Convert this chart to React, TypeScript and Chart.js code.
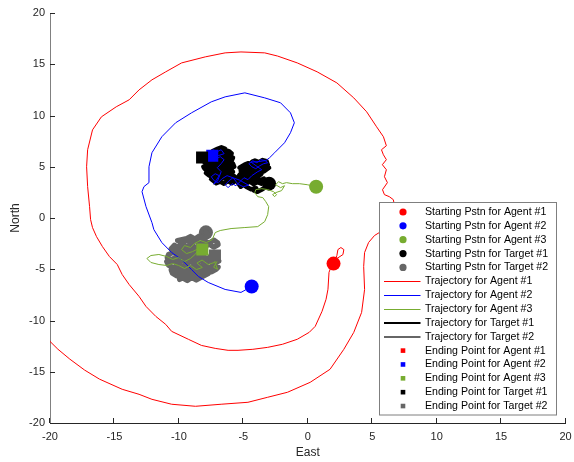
import { useEffect, useRef } from 'react';
import { Chart, registerables } from 'chart.js';

Chart.register(...registerables);

const FONT = '"Liberation Sans", Arial, Helvetica, sans-serif';

// Axis ticks (East / North, metres)
const xTicks = [-20, -15, -10, -5, 0, 5, 10, 15, 20];
const yTicks = [-20, -15, -10, -5, 0, 5, 10, 15, 20];

const names = ['Agent #1', 'Agent #2', 'Agent #3', 'Target #1', 'Target #2'];
const colors = ['#FF0000', '#0000FF', '#77AC30', '#000000', '#666666'];
const pathWidths = [1, 1, 1, 4.5, 5.2];

type Pt = [number, number];

// Starting positions
const startPoints: Pt[] = [
  [2.0, -4.45],
  [-4.35, -6.68],
  [0.65, 3.05],
  [-3.0, 3.35],
  [-7.9, -1.4],
];

// Ending positions
const endPoints: Pt[] = [
  [-21.5, -8.5],
  [-7.41, 6.08],
  [-8.18, -3.08],
  [-8.2, 5.9],
  [-7.2, -3.65],
];

const agent1Path: Pt[] = [
  [2.0, -4.45], [2.26, -3.66], [2.34, -3.08], [2.57, -2.88], [2.8, -3.08], [2.73, -3.57], [2.26, -3.95],
  [1.96, -4.25], [1.65, -5.3], [1.57, -6.95], [1.42, -7.93], [1.11, -9.1], [0.58, -10.57], [0.12, -11.15],
  [-0.81, -11.83], [-1.96, -12.32], [-3.11, -12.62], [-4.26, -12.81], [-5.41, -12.91], [-6.18, -12.91],
  [-7.18, -12.72], [-8.25, -12.43], [-9.25, -11.84], [-10.56, -11.06], [-11.02, -10.38], [-11.79, -9.6],
  [-12.55, -8.63], [-13.09, -7.65], [-13.86, -6.49], [-14.4, -5.51], [-14.78, -4.54], [-15.39, -3.76],
  [-15.93, -2.79], [-16.39, -1.82], [-16.7, -0.94], [-16.85, -0.16], [-16.93, 1.11], [-17.08, 3.06],
  [-17.16, 5.0], [-17.08, 6.66], [-16.7, 8.6], [-16.01, 9.87], [-14.86, 10.85], [-13.86, 11.53],
  [-13.09, 12.5], [-12.09, 13.48], [-11.02, 14.26], [-9.79, 15.13], [-7.95, 15.72], [-6.41, 16.11],
  [-5.18, 16.2], [-3.34, 16.11], [-2.34, 15.8], [-0.81, 15.13], [0.73, 14.26], [2.26, 13.18],
  [3.57, 11.72], [4.57, 10.36], [5.34, 8.9], [5.87, 7.93], [6.1, 7.05], [5.72, 6.66], [5.87, 6.17],
  [6.1, 5.69], [5.79, 5.2], [6.1, 4.71], [5.95, 4.03], [6.18, 3.45], [5.8, 2.76], [5.95, 2.28],
  [6.33, 2.08], [6.64, 1.79], [6.79, 0.82], [6.56, -0.35], [5.8, -1.23], [5.18, -1.71], [4.72, -2.39],
  [4.41, -3.37], [4.34, -4.73], [4.41, -6.97], [4.18, -9.21], [3.57, -11.16], [2.8, -12.81],
  [1.73, -14.76], [0.19, -16.03], [-1.57, -17.0], [-3.11, -17.49], [-4.64, -17.98], [-6.72, -18.17],
  [-8.71, -18.37], [-10.56, -18.17], [-12.09, -17.69], [-13.09, -17.2], [-14.4, -16.71],
  [-16.16, -15.72], [-17.31, -14.84], [-18.46, -13.77], [-19.39, -12.8], [-20.0, -12.04],
  [-20.77, -10.1], [-21.5, -8.5],
];

const agent2Path: Pt[] = [
  [-4.35, -6.68], [-5.18, -7.26], [-6.41, -6.97], [-7.72, -6.29], [-8.48, -5.71], [-9.02, -5.03],
  [-9.79, -4.05], [-10.56, -3.37], [-11.32, -2.4], [-11.94, -1.13], [-12.09, -0.45], [-12.55, 1.11],
  [-12.86, 2.57], [-12.71, 3.06], [-12.32, 3.45], [-12.32, 5.0], [-12.09, 6.37], [-11.32, 7.93],
  [-10.25, 9.29], [-9.02, 10.26], [-7.49, 11.33], [-6.41, 11.82], [-4.88, 12.21], [-3.34, 11.72],
  [-2.11, 11.24], [-1.34, 10.26], [-1.04, 9.29], [-1.34, 8.32], [-1.8, 7.34], [-2.57, 6.37],
  [-2.96, 5.88], [-3.26, 5.59], [-3.65, 5.69], [-3.95, 5.39], [-4.26, 5.59], [-4.57, 5.3], [-4.34, 5.0],
  [-4.03, 4.81], [-3.72, 5.1], [-3.42, 5.3], [-3.11, 5.39], [-3.3, 5.6], [-3.8, 5.5], [-4.4, 5.45],
  [-3.57, 4.71], [-3.88, 4.52], [-4.34, 4.13], [-4.64, 3.74], [-4.95, 3.93], [-5.26, 3.54], [-5.57, 3.15],
  [-5.87, 3.35], [-6.18, 2.96], [-6.41, 3.25], [-6.1, 3.64], [-5.8, 3.93], [-5.4, 3.3], [-5.0, 3.05],
  [-4.6, 3.2], [-5.3, 3.7], [-6.26, 4.13], [-6.64, 3.84], [-6.95, 3.45], [-7.26, 3.64], [-7.49, 4.03],
  [-7.18, 4.32], [-6.87, 4.13], [-7.3, 3.3], [-7.0, 3.6], [-6.72, 4.52], [-7.02, 4.91], [-6.72, 5.3],
  [-6.49, 5.69], [-6.79, 5.98], [-7.1, 5.78], [-7.41, 6.08], [-7.64, 6.37], [-7.33, 6.66], [-7.02, 6.47],
  [-6.72, 6.66], [-6.49, 6.27], [-6.95, 6.08], [-7.41, 6.08],
];

const agent3Path: Pt[] = [
  [0.65, 3.05], [-0.04, 3.25], [-0.65, 3.35], [-1.19, 3.35], [-1.65, 3.45], [-1.96, 3.35], [-2.26, 3.54],
  [-2.5, 3.25], [-2.11, 2.96], [-1.8, 3.15], [-2.03, 2.67], [-2.5, 2.47], [-2.73, 2.28], [-2.57, 2.08],
  [-2.42, 2.28], [-2.65, 2.57], [-3.11, 2.77], [-3.57, 2.86], [-4.03, 2.77], [-4.11, 2.47], [-3.88, 2.08],
  [-3.49, 1.99], [-3.26, 1.6], [-3.03, 1.11], [-3.11, 0.33], [-3.34, -0.35], [-3.88, -0.84], [-4.88, -0.93],
  [-5.95, -1.03], [-6.79, -1.22], [-7.18, -1.42], [-7.41, -2.1], [-7.87, -2.4], [-8.33, -2.2], [-8.79, -2.49],
  [-9.1, -2.88], [-9.56, -2.69], [-9.79, -3.08], [-9.41, -3.47], [-8.94, -3.28], [-8.5, -3.0], [-8.1, -3.3],
  [-7.8, -2.9], [-8.3, -2.7], [-8.7, -3.5], [-9.1, -3.95], [-9.56, -4.25], [-10.02, -3.86], [-10.48, -4.05],
  [-10.94, -3.76], [-11.55, -3.56], [-12.17, -3.66], [-12.48, -3.95], [-12.17, -4.34], [-11.55, -4.54],
  [-10.94, -4.63], [-10.48, -4.44], [-10.02, -4.63], [-9.56, -4.93], [-9.1, -4.63], [-8.64, -5.03],
  [-8.18, -4.83], [-8.6, -4.4], [-8.2, -4.1], [-7.72, -4.54], [-7.26, -4.34], [-6.95, -4.05], [-7.3, -4.8],
  [-7.0, -5.0], [-7.41, -3.66], [-7.87, -3.47], [-8.18, -3.08],
];

const target1Path: Pt[] = [
  [-3.0, 3.35], [-3.3, 3.0], [-3.6, 2.75], [-3.9, 2.55], [-4.2, 2.7], [-4.0, 2.9], [-4.4, 2.8], [-4.7, 3.0],
  [-5.0, 3.25], [-5.2, 3.05], [-5.4, 3.4], [-5.1, 3.55], [-4.8, 3.35], [-4.5, 3.55], [-4.2, 3.3], [-3.9, 3.5],
  [-3.6, 3.35], [-3.3, 3.5], [-3.1, 3.2], [-3.4, 3.85], [-3.7, 3.65], [-4.0, 3.85], [-4.3, 3.65], [-4.6, 3.85],
  [-4.9, 3.65], [-5.2, 3.85], [-5.5, 3.7], [-5.3, 4.0], [-5.0, 4.15], [-4.7, 3.95], [-4.4, 4.15], [-4.1, 3.95],
  [-3.8, 4.1], [-3.6, 4.3], [-3.9, 4.45], [-4.2, 4.25], [-4.5, 4.45], [-4.8, 4.25], [-5.1, 4.4], [-5.2, 4.6],
  [-4.9, 4.75], [-4.6, 4.55], [-4.3, 4.75], [-4.0, 4.55], [-3.7, 4.75], [-3.4, 4.55], [-3.0, 4.9], [-3.3, 5.05],
  [-3.6, 4.85], [-3.9, 5.05], [-4.2, 4.85], [-4.5, 5.05], [-4.8, 4.85], [-5.1, 5.0], [-5.3, 4.9], [-4.9, 5.2],
  [-4.6, 5.35], [-4.3, 5.15], [-4.0, 5.35], [-3.7, 5.15], [-3.4, 5.3], [-3.1, 5.2], [-3.2, 5.55], [-3.5, 5.65],
  [-3.8, 5.45], [-4.1, 5.6], [-4.3, 5.5], [-4.8, 4.9], [-5.3, 4.2], [-5.6, 3.6], [-5.9, 3.4], [-6.2, 3.6],
  [-6.5, 3.35], [-6.8, 3.55], [-7.1, 3.4], [-7.3, 3.6], [-7.5, 3.8], [-7.2, 3.95], [-6.9, 3.75], [-6.6, 3.95],
  [-6.3, 3.75], [-6.0, 3.95], [-5.8, 3.8], [-5.7, 4.1], [-6.0, 4.25], [-6.3, 4.05], [-6.6, 4.25], [-6.9, 4.05],
  [-7.2, 4.25], [-7.5, 4.05], [-7.7, 4.2], [-7.9, 4.4], [-7.6, 4.55], [-7.3, 4.35], [-7.0, 4.55], [-6.7, 4.35],
  [-6.4, 4.55], [-6.1, 4.35], [-5.8, 4.5], [-5.9, 4.7], [-6.2, 4.85], [-6.5, 4.65], [-6.8, 4.85], [-7.1, 4.65],
  [-7.4, 4.85], [-7.7, 4.65], [-8.0, 4.8], [-8.1, 5.0], [-7.8, 5.15], [-7.5, 4.95], [-7.2, 5.15], [-6.9, 4.95],
  [-6.6, 5.15], [-6.3, 4.95], [-6.0, 5.15], [-5.7, 5.0], [-5.8, 5.3], [-6.1, 5.45], [-6.4, 5.25], [-6.7, 5.45],
  [-7.0, 5.25], [-7.3, 5.45], [-7.6, 5.25], [-8.0, 5.4], [-7.8, 5.6], [-7.5, 5.75], [-7.2, 5.55], [-6.9, 5.75],
  [-6.6, 5.55], [-6.3, 5.75], [-5.9, 5.6], [-5.8, 5.9], [-6.1, 6.05], [-6.4, 5.85], [-6.7, 6.05], [-7.0, 5.85],
  [-7.3, 6.05], [-7.6, 5.9], [-7.5, 6.2], [-7.2, 6.35], [-6.9, 6.15], [-6.6, 6.35], [-6.3, 6.15], [-5.9, 6.3],
  [-6.1, 6.5], [-6.4, 6.65], [-6.7, 6.45], [-7.0, 6.65], [-7.4, 6.5], [-7.0, 6.75], [-6.7, 6.9], [-6.4, 6.75],
  [-7.2, 6.3], [-7.8, 6.0], [-8.2, 5.9],
];

const target2Path: Pt[] = [
  [-7.9, -1.4], [-7.7, -1.75], [-8.05, -2.05], [-8.4, -1.75], [-8.75, -2.05], [-9.1, -1.8], [-9.4, -2.0],
  [-10.1, -2.2], [-9.75, -2.45], [-9.4, -2.15], [-9.05, -2.4], [-8.7, -2.2], [-8.35, -2.5], [-8.0, -2.2],
  [-7.65, -2.45], [-7.3, -2.15], [-7.0, -2.4], [-6.95, -2.6], [-7.3, -2.85], [-7.65, -2.55], [-8.0, -2.8],
  [-8.35, -2.6], [-8.7, -2.9], [-9.05, -2.6], [-9.4, -2.8], [-9.75, -2.55], [-10.1, -2.85], [-10.35, -2.65],
  [-10.6, -3.0], [-10.25, -3.25], [-9.9, -2.95], [-9.55, -3.2], [-9.2, -3.0], [-8.85, -3.25], [-8.5, -3.05],
  [-8.3, -3.4], [-8.65, -3.6], [-9.0, -3.35], [-9.35, -3.65], [-9.7, -3.4], [-10.05, -3.6], [-10.4, -3.35],
  [-10.8, -3.55], [-10.9, -3.85], [-10.55, -4.05], [-10.2, -3.8], [-9.85, -4.0], [-9.5, -3.75], [-9.15, -4.05],
  [-8.8, -3.8], [-8.45, -4.0], [-8.1, -3.75], [-7.75, -4.0], [-7.5, -3.85], [-6.9, -4.2], [-7.25, -4.45],
  [-7.6, -4.2], [-7.95, -4.4], [-8.3, -4.15], [-8.65, -4.45], [-9.0, -4.2], [-9.35, -4.4], [-9.7, -4.15],
  [-10.05, -4.45], [-10.4, -4.2], [-10.75, -4.4], [-10.95, -4.25], [-10.8, -4.6], [-10.45, -4.85],
  [-10.1, -4.6], [-9.75, -4.8], [-9.4, -4.55], [-9.05, -4.85], [-8.7, -4.6], [-8.35, -4.8], [-8.0, -4.55],
  [-7.65, -4.85], [-7.3, -4.6], [-6.95, -4.8], [-7.1, -5.0], [-7.45, -5.25], [-7.8, -4.95], [-8.15, -5.2],
  [-8.5, -5.0], [-8.85, -5.25], [-9.2, -4.95], [-9.55, -5.2], [-9.9, -5.0], [-10.25, -5.25], [-10.6, -5.05],
  [-10.5, -5.4], [-10.15, -5.65], [-9.8, -5.4], [-9.45, -5.6], [-9.1, -5.35], [-8.75, -5.65], [-8.4, -5.4],
  [-8.05, -5.6], [-7.7, -5.4], [-8.3, -5.8], [-8.65, -6.05], [-9.0, -5.8], [-9.35, -6.1], [-9.7, -5.85],
  [-9.95, -6.0], [-9.2, -5.0], [-8.4, -4.2], [-7.2, -3.65],
];

const paths: Pt[][] = [agent1Path, agent2Path, agent3Path, target1Path, target2Path];

// Stacking: higher order is painted first (further back)
const startOrder = [100, 99, 98, 97, 96];
const pathOrder = [70, 69, 68, 80, 79];
const endOrder = [10, 9, 8, 7, 6];

const toXY = (pts: Pt[]) => pts.map(([x, y]) => ({ x, y }));

function buildDatasets() {
  const sets: any[] = [];
  names.forEach((n, i) => {
    sets.push({
      label: `Starting Pstn for ${n}`,
      data: toXY([startPoints[i]]),
      showLine: false,
      pointStyle: 'circle',
      pointRadius: 7,
      pointBorderWidth: 0,
      backgroundColor: colors[i],
      borderColor: colors[i],
      order: startOrder[i],
    });
  });
  names.forEach((n, i) => {
    sets.push({
      label: `Trajectory for ${n}`,
      data: toXY(paths[i]),
      showLine: true,
      pointRadius: 0,
      borderWidth: pathWidths[i],
      borderColor: colors[i],
      backgroundColor: colors[i],
      borderJoinStyle: 'round',
      borderCapStyle: 'round',
      order: pathOrder[i],
    });
  });
  names.forEach((n, i) => {
    sets.push({
      label: `Ending Point for ${n}`,
      data: toXY([endPoints[i]]),
      showLine: false,
      pointStyle: 'rect',
      pointRadius: 8.5,
      pointBorderWidth: 0,
      backgroundColor: colors[i],
      borderColor: colors[i],
      order: endOrder[i],
    });
  });
  return sets;
}

const innerTicks = {
  id: 'innerTicks',
  afterDatasetsDraw(chart: any) {
    const { ctx, chartArea: a, scales } = chart;
    ctx.save();
    ctx.strokeStyle = '#262626';
    ctx.lineWidth = 1;
    ctx.beginPath();
    for (const v of xTicks) {
      const px = Math.round(scales.x.getPixelForValue(v)) - 0.5;
      ctx.moveTo(px, a.bottom);
      ctx.lineTo(px, a.bottom - 5);
    }
    for (const v of yTicks) {
      const py = Math.round(scales.y.getPixelForValue(v)) + 0.5;
      ctx.moveTo(a.left, py);
      ctx.lineTo(a.left + 5, py);
    }
    ctx.stroke();
    ctx.restore();
  },
};

const boxLegend = {
  id: 'boxLegend',
  afterDraw(chart: any) {
    const { ctx, chartArea: a } = chart;
    const sets = chart.data.datasets;
    const rowH = 13.86;
    const w = 177;
    const h = 212.5;
    const x0 = Math.round(a.right - 10 - w) + 0.5;
    const y0 = Math.round(a.bottom - 9 - h) + 0.5;
    ctx.save();
    ctx.fillStyle = '#FFFFFF';
    ctx.fillRect(x0, y0, w, h);
    ctx.strokeStyle = '#7F7F7F';
    ctx.lineWidth = 1;
    ctx.strokeRect(x0, y0, w, h);
    ctx.font = `10.6px ${FONT}`;
    ctx.textBaseline = 'middle';
    ctx.textAlign = 'left';
    sets.forEach((s: any, i: number) => {
      const cy = y0 + 9.5 + i * rowH;
      const mx = x0 + 23.5;
      const c = colors[i % colors.length];
      if (s.showLine) {
        const thick = s.borderWidth > 1;
        ctx.strokeStyle = c;
        ctx.lineWidth = thick ? 2 : 1;
        const ly = thick ? Math.round(cy) : Math.round(cy) + 0.5;
        ctx.beginPath();
        ctx.moveTo(x0 + 4.5, ly);
        ctx.lineTo(x0 + 41, ly);
        ctx.stroke();
      } else if (s.pointStyle === 'rect') {
        ctx.fillStyle = c;
        ctx.fillRect(mx - 2.3, cy - 2.3, 4.6, 4.6);
      } else {
        ctx.fillStyle = c;
        ctx.beginPath();
        ctx.arc(mx, cy, 3.6, 0, Math.PI * 2);
        ctx.fill();
      }
      ctx.fillStyle = '#000000';
      ctx.fillText(s.label, x0 + 45.5, cy);
    });
    ctx.restore();
  },
};

export default function App() {
  const ref = useRef<HTMLCanvasElement>(null);
  useEffect(() => {
    document.body.style.margin = '0';
    const canvas = ref.current;
    if (!canvas) return;
    const tickFont = { family: FONT, size: 11 };
    const titleFont = { family: FONT, size: 12 };
    const chart = new Chart(canvas, {
      type: 'scatter',
      data: { datasets: buildDatasets() },
      options: {
        responsive: false,
        animation: false,
        devicePixelRatio: 1,
        events: [],
        layout: { padding: { left: 0, top: 13, right: 3, bottom: 0 } },
        plugins: { legend: { display: false }, tooltip: { enabled: false } },
        scales: {
          x: {
            type: 'linear',
            min: -20,
            max: 20,
            afterBuildTicks: (s: any) => {
              s.ticks = xTicks.map((v) => ({ value: v }));
            },
            afterFit: (s: any) => {
              s.height = 39;
              s.paddingLeft = 0;
              s.paddingRight = 0;
            },
            grid: { display: false, drawTicks: false },
            border: { display: true, color: '#262626', width: 1 },
            ticks: { font: tickFont, color: '#262626', padding: 7, maxRotation: 0, autoSkip: false },
            title: { display: true, text: 'East', font: titleFont, color: '#262626', padding: { top: 0, bottom: 2 } },
          },
          y: {
            type: 'linear',
            min: -20,
            max: 20,
            afterBuildTicks: (s: any) => {
              s.ticks = yTicks.map((v) => ({ value: v }));
            },
            afterFit: (s: any) => {
              s.width = 50;
              s.paddingTop = 0;
              s.paddingBottom = 0;
            },
            grid: { display: false, drawTicks: false },
            border: { display: true, color: '#808080', width: 1 },
            ticks: { font: tickFont, color: '#262626', padding: 5, autoSkip: false },
            title: { display: true, text: 'North', font: titleFont, color: '#262626', padding: { top: 8, bottom: 0 } },
          },
        },
      } as any,
      plugins: [innerTicks, boxLegend],
    });
    return () => chart.destroy();
  }, []);
  return <canvas ref={ref} width={574} height={462} style={{ display: 'block' }} />;
}
